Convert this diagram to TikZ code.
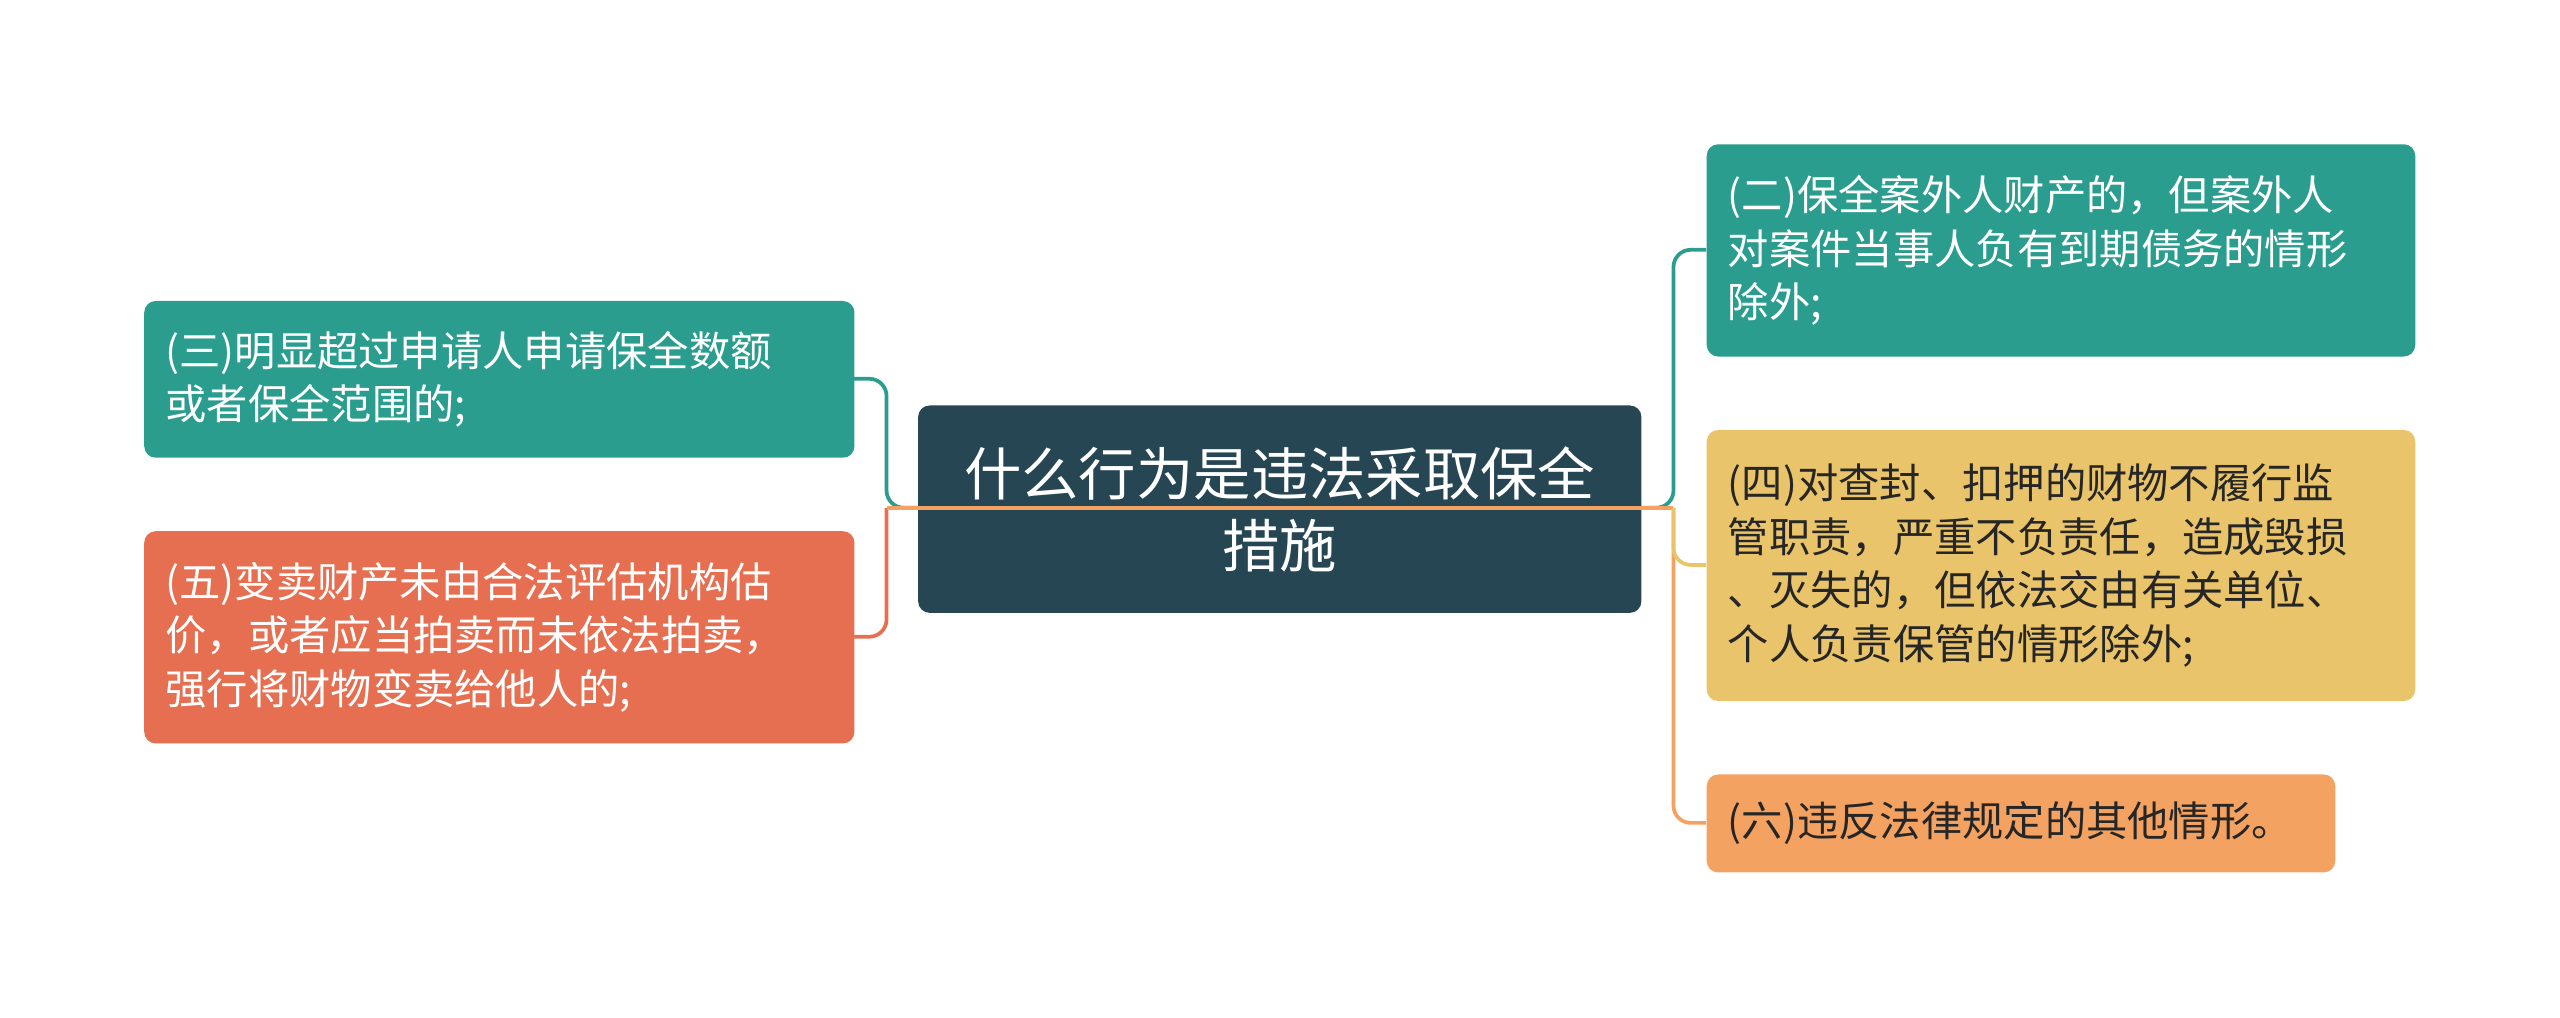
\documentclass[tikz,border=0pt]{standalone}
\usepackage{fontspec}
\setmainfont{Noto Sans CJK SC}
\usetikzlibrary{positioning,calc}
\definecolor{cdark}{HTML}{264653}
\definecolor{cteal}{HTML}{2A9D8F}
\definecolor{cred}{HTML}{E76F51}
\definecolor{cyel}{HTML}{E9C46A}
\definecolor{corg}{HTML}{F4A261}
\tikzset{
  leaf/.style={rounded corners=4pt, anchor=north west, align=left, inner xsep=0.26cm,
    font=\fontsize{14.4}{18.7}\selectfont, text=white},
  link/.style={line width=1.3pt, rounded corners=6pt}
}
\begin{document}
\begin{tikzpicture}[x=0.02cm,y=-0.02cm]
  \useasboundingbox (0,0) rectangle (1568,623);

  % connectors
  \draw[link,cteal] (1005,311) -- (1025,311) |- (1045,153);
  \draw[link,corg] (1025,311) |- (1045,504);
  \draw[link,cteal] (562,311) -- (543,311) |- (523,232);
  \draw[link,cred] (543,311) |- (523,390);

  \node[leaf, fill=cdark, minimum width=443*0.02cm, minimum height=127*0.02cm,
    align=center, font=\fontsize{20}{25}\selectfont] (root) at (562,248)
    {什么行为是违法采取保全\\措施};
  \draw[line width=1.3pt,corg] (543,311) -- (1025,311);
  \draw[link,cyel] (1025,311) |- (1045,346);

  \node[leaf, fill=cteal, text width=409*0.02cm, minimum height=96*0.02cm] (san) at (88,184)
    {(三)明显超过申请人申请保全数额\\或者保全范围的;};
  \node[leaf, fill=cred, text width=409*0.02cm, minimum height=130*0.02cm] (wu) at (88,325)
    {(五)变卖财产未由合法评估机构估\\价，或者应当拍卖而未依法拍卖，\\强行将财物变卖给他人的;};
  \node[leaf, fill=cteal, text width=408*0.02cm, minimum height=130*0.02cm] (er) at (1045,88)
    {(二)保全案外人财产的，但案外人\\对案件当事人负有到期债务的情形\\除外;};
  \node[leaf, fill=cyel, text=black!85, text width=408*0.02cm, minimum height=166*0.02cm] (si) at (1045,263)
    {(四)对查封、扣押的财物不履行监\\管职责，严重不负责任，造成毁损\\、灭失的，但依法交由有关单位、\\个人负责保管的情形除外;};
  \node[leaf, fill=corg, text=black!85, text width=359*0.02cm, minimum height=60*0.02cm] (liu) at (1045,474)
    {(六)违反法律规定的其他情形。};
\end{tikzpicture}
\end{document}
